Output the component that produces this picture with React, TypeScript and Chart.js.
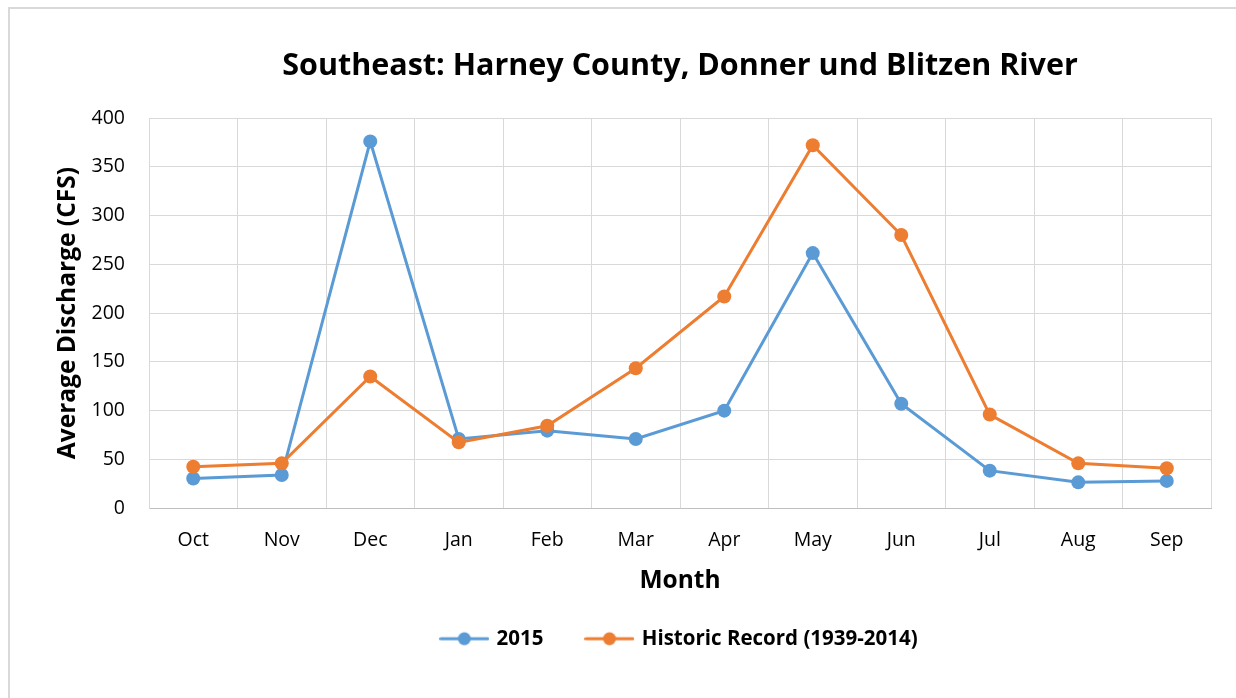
import React, { useEffect, useRef } from "react";
import { Chart, registerables } from "chart.js";

Chart.register(...registerables);

const months = ["Oct", "Nov", "Dec", "Jan", "Feb", "Mar", "Apr", "May", "Jun", "Jul", "Aug", "Sep"];
const values2015 = [30.5, 34, 376, 71, 79.5, 71, 100, 261.5, 107, 38.5, 26.5, 28];
const valuesHistoric = [42.5, 46, 135, 67.5, 84.5, 143.5, 217, 372, 280, 96, 46, 41];
const seriesNames = ["2015", "Historic Record (1939-2014)"];
const seriesColors = ["#5B9BD5", "#ED7D31"];
const yMin = 0;
const yMax = 400;
const yStep = 50;
const chartTitle = "Southeast: Harney County, Donner und Blitzen River";
const xTitle = "Month";
const yTitle = "Average Discharge (CFS)";

const FONT = "'Open Sans', 'Noto Sans', sans-serif";

function legendImage(color: string): HTMLCanvasElement {
  const c = document.createElement("canvas");
  c.width = 50;
  c.height = 16;
  const ctx = c.getContext("2d")!;
  ctx.strokeStyle = color;
  ctx.lineWidth = 3;
  ctx.lineCap = "round";
  ctx.beginPath();
  ctx.moveTo(1.5, 8);
  ctx.lineTo(48.5, 8);
  ctx.stroke();
  ctx.fillStyle = color;
  ctx.beginPath();
  ctx.arc(25, 8, 6.5, 0, Math.PI * 2);
  ctx.fill();
  return c;
}

export default function App() {
  const ref = useRef<HTMLCanvasElement | null>(null);

  useEffect(() => {
    if (!ref.current) return;
    const images = seriesColors.map((c) => legendImage(c));
    const chart = new Chart(ref.current, {
      type: "line",
      data: {
        labels: months,
        datasets: [
          {
            label: seriesNames[0],
            data: values2015,
            borderColor: seriesColors[0],
            backgroundColor: seriesColors[0],
            borderWidth: 3,
            pointRadius: 7,
            pointBorderWidth: 0,
            pointBackgroundColor: seriesColors[0],
            tension: 0,
            order: 1,
          },
          {
            label: seriesNames[1],
            data: valuesHistoric,
            borderColor: seriesColors[1],
            backgroundColor: seriesColors[1],
            borderWidth: 3,
            pointRadius: 7,
            pointBorderWidth: 0,
            pointBackgroundColor: seriesColors[1],
            tension: 0,
            order: 0,
          },
        ],
      },
      options: {
        responsive: false,
        animation: false,
        devicePixelRatio: 1,
        layout: { padding: { left: 53, right: 25, top: 0, bottom: 39 } },
        plugins: {
          tooltip: { enabled: false },
          title: {
            display: true,
            text: chartTitle,
            fullSize: false,
            color: "#000",
            font: { family: FONT, size: 30.5, weight: "bold" },
            padding: { top: 48, bottom: 33.4 },
          },
          legend: {
            display: true,
            position: "bottom",
            fullSize: false,
            labels: {
              usePointStyle: true,
              pointStyleWidth: 44,
              padding: 44,
              color: "#000",
              font: { family: FONT, size: 20.5, weight: "bold" },
              sort: (a: any, b: any) => a.datasetIndex - b.datasetIndex,
              generateLabels: (chart: any) => {
                const items = Chart.defaults.plugins.legend.labels.generateLabels(chart);
                return items.map((it: any) => ({ ...it, pointStyle: images[it.datasetIndex] }));
              },
            },
          },
        },
        scales: {
          x: {
            type: "category",
            offset: true,
            grid: { offset: true, color: "#d9d9d9", lineWidth: 1, drawTicks: false },
            border: { color: "#bfbfbf", width: 1 },
            ticks: {
              color: "#000",
              padding: 21,
              font: { family: FONT, size: 19.5 },
              maxRotation: 0,
            },
            title: {
              display: true,
              text: xTitle,
              color: "#000",
              font: { family: FONT, size: 24.5, weight: "bold" },
              padding: { top: -7, bottom: -11.5 },
            },
          },
          y: {
            min: yMin,
            max: yMax,
            grid: { color: "#d9d9d9", lineWidth: 1, drawTicks: false },
            border: { color: "#d9d9d9", width: 1 },
            ticks: {
              stepSize: yStep,
              color: "#000",
              padding: 24,
              font: { family: FONT, size: 19.5 },
            },
            title: {
              display: true,
              text: yTitle,
              color: "#000",
              font: { family: FONT, size: 24.5, weight: "bold" },
              padding: 0,
            },
            afterFit: (scale: any) => {
              scale.width = 96;
            },
          },
        },
      },
    });
    return () => chart.destroy();
  }, []);

  return (
    <div style={{ position: "fixed", left: 0, top: 0, width: 1236, height: 698, background: "#fff", overflow: "hidden" }}>
      <canvas ref={ref} width={1236} height={698} style={{ display: "block", width: 1236, height: 698 }} />
      <div
        style={{
          position: "absolute",
          left: 8,
          top: 7,
          width: 1250,
          height: 720,
          border: "2px solid #d9d9d9",
          pointerEvents: "none",
        }}
      />
    </div>
  );
}
